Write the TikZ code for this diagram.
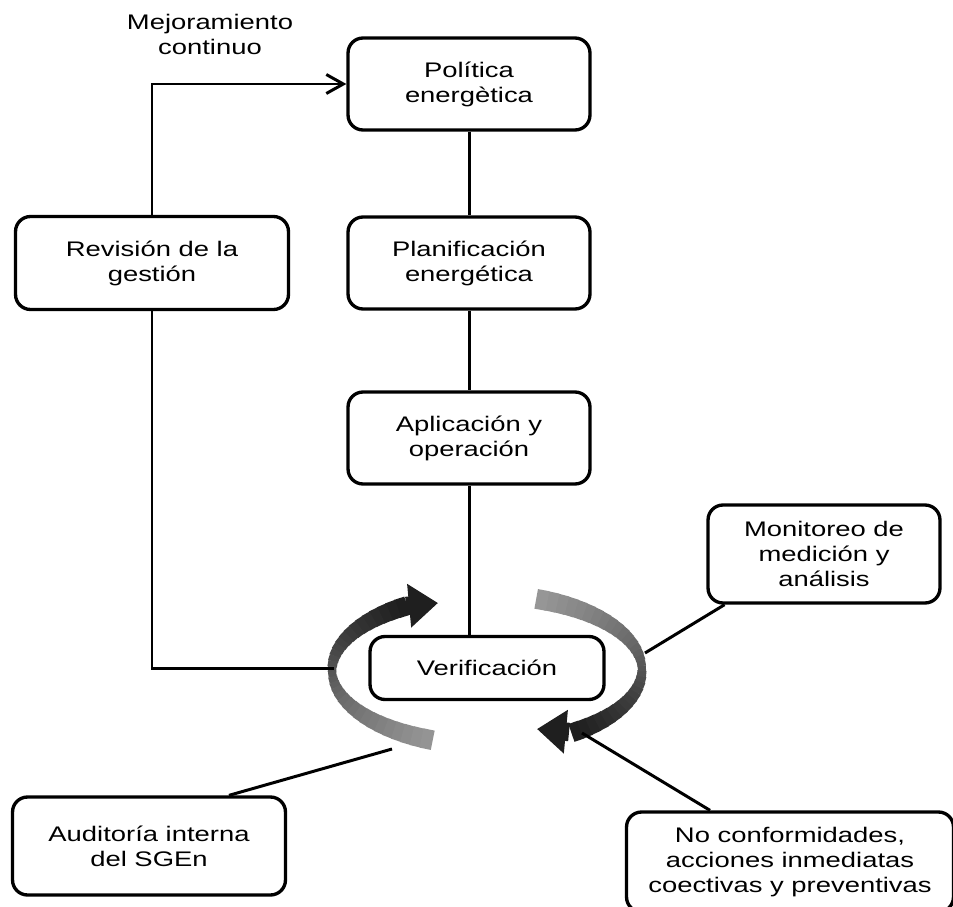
\documentclass[tikz,border=0pt]{standalone}
\usepackage{fontspec}
\setmainfont{Liberation Sans}[FakeStretch=1.3]
\usetikzlibrary{arrows.meta}

\tikzset{
  stage/.style={draw, line width=1.9pt, rounded corners=0.3cm, fill=white, align=center,
    minimum width=4.84cm, minimum height=1.84cm, font=\fontsize{12}{14.2}\selectfont},
  link/.style={line width=1.7pt},
}

\begin{document}
\begin{tikzpicture}[x=0.02cm, y=-0.02cm]
    \useasboundingbox (0,0) rectangle (953,906);

    % Ring round the check step
    \foreach \a in {121,125,...,245} {
        \pgfmathsetmacro{\bw}{(8+13*abs(sin(\a)))*0.567}
        \pgfmathsetmacro{\sh}{40+48*(250-\a)/129}
        \draw[line width=\bw pt, black!\sh] ({487+155*cos(\a)},{670-75*sin(\a)}) -- ({487+155*cos(\a+4.5)},{670-75*sin(\a+4.5)});
    }
    \foreach \a in {-57,-53,...,67} {
        \pgfmathsetmacro{\bw}{(8+13*abs(sin(\a)))*0.567}
        \pgfmathsetmacro{\sh}{40+48*(70-\a)/127}
        \draw[line width=\bw pt, black!\sh] ({487+155*cos(\a)},{670-75*sin(\a)}) -- ({487+155*cos(\a+4.5)},{670-75*sin(\a+4.5)});
    }
    \draw[line width=10.5pt, black!88, -{Triangle[width=0.84cm, length=0.58cm]}] (406,606) -- (438,603);
    \draw[line width=10.5pt, black!88, -{Triangle[width=0.84cm, length=0.58cm]}] (569,732) -- (537,729);

    % Points where the lines meet the ring
    \coordinate (ringW) at (334,668);
    \coordinate (ringE) at (645,653);
    \coordinate (ringSE) at (582,733);
    \coordinate (ringSW) at (392,749);

    % Stages
    \node[stage] (politica) at (469,84) {Política\\energètica};
    \node[stage] (planif) at (469,263) {Planificación\\energética};
    \node[stage] (aplic) at (469,438) {Aplicación y\\operación};
    \node[stage, minimum width=5.46cm, minimum height=1.86cm] (revision) at (152,263) {Revisión de la\\gestión};
    \node[stage, minimum width=4.68cm, minimum height=1.26cm] (verif) at (487,668) {Verificación};
    \node[stage, minimum width=4.64cm, minimum height=1.96cm] (monitoreo) at (824,554) {Monitoreo de\\medición y\\análisis};
    \node[stage, minimum width=5.46cm, minimum height=1.96cm] (auditoria) at (149,846) {Auditoría interna\\del SGEn};
    \node[stage, minimum width=6.54cm, minimum height=2cm] (noconf) at (790,862) {No conformidades,\\acciones inmediatas\\coectivas y preventivas};
    \node[align=center, font=\fontsize{12}{14.2}\selectfont] (mejora) at (210,34) {Mejoramiento\\continuo};

    % Links
    \draw[link] (politica) -- (planif);
    \draw[link] (planif) -- (aplic);
    \draw[link] (aplic.south) -- (aplic.south |- verif.north);
    \draw[link] (revision.south) |- (ringW);
    \draw[link, -{Straight Barb[length=0.34cm, width=0.38cm]}] (revision.north) |- (politica.west);
    \draw[link] (monitoreo.207) -- (ringE);
    \draw[link] ([xshift=-1.6cm]noconf.north) -- (ringSE);
    \draw[link] ([xshift=1.6cm]auditoria.north) -- (ringSW);
\end{tikzpicture}
\end{document}
